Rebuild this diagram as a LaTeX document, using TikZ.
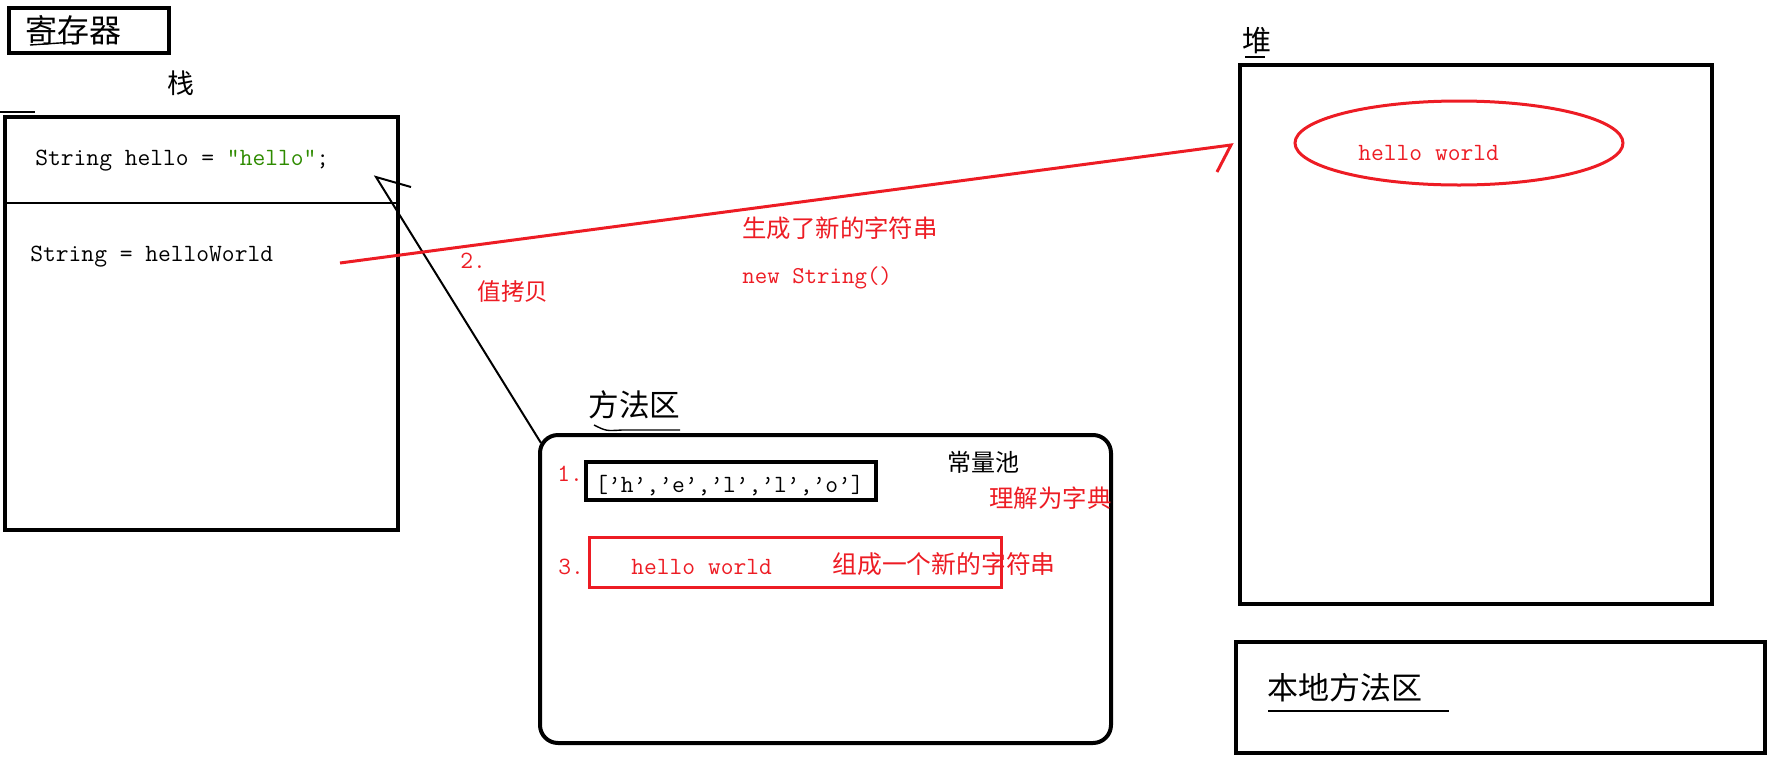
\documentclass[tikz,border=0pt]{standalone}
\usepackage{fontspec}
\newfontfamily\cjk{Noto Sans CJK SC}
\usetikzlibrary{calc,shapes.geometric}
\definecolor{paintred}{HTML}{ED1C24}
\definecolor{strgreen}{HTML}{2E8B00}

\tikzset{
  memframe/.style={line width=2pt},
  redframe/.style={line width=1.5pt, paintred},
  pen/.style={line width=0.7pt},
  code/.style={anchor=west, inner sep=0pt, font=\fontsize{12.4}{14}\selectfont\ttfamily},
  cjksmall/.style={anchor=west, inner sep=0pt, font=\fontsize{12.2}{14}\selectfont\cjk},
  cjkbig/.style={anchor=west, inner sep=0pt, font=\fontsize{15.5}{18}\selectfont\cjk},
  note/.style={text=paintred}
}

\begin{document}
\begin{tikzpicture}[x=0.5pt,y=-0.5pt]
  \useasboundingbox (0,0) rectangle (1790,761);
  % register
  \draw[memframe] (9,8) rectangle (169,53);
  \node[cjkbig, font=\fontsize{16}{18}\selectfont\cjk] (regname) at (25,30) {寄存器};
  \draw[pen] (30,45) .. controls (52,44) .. (74,42);
  % stack
  \node[cjkbig, font=\fontsize{13.5}{16}\selectfont\cjk] (stackname) at (167,83) {栈};
  \draw[pen] (0,112) -- (35,112);
  \draw[memframe] (5,117) rectangle (398,530);
  \draw[line width=1.3pt] (5,203) -- (398,203);
  \node[code] (hellovar) at (35,161) {String hello = {\color{strgreen}”hello”};};
  \node[code] (worldvar) at (30,257) {String = helloWorld};
  % heap
  \node[cjkbig, font=\fontsize{14.5}{17}\selectfont\cjk] (heapname) at (1242,41) {堆};
  \draw[pen] (1245,57) -- (1265,57);
  \draw[memframe] (1240,65) rectangle (1712,604);
  \node[draw, redframe, ellipse, minimum width=164pt, minimum height=42pt, inner sep=0pt] (heapobj) at (1459,143) {};
  \node[code, note] (heapstr) at (1358,153) {hello world};
  % native method area
  \draw[memframe] (1236,642) rectangle (1765,753);
  \node[cjkbig] (nativename) at (1267,688) {本地方法区};
  \draw[pen] (1268,711) -- (1449,711);
  % method area
  \node[cjkbig, font=\fontsize{15.3}{18}\selectfont\cjk] (methodname) at (588,405) {方法区};
  \draw[pen] (594,425) .. controls (606,431) .. (622,430) -- (680,430);
  \draw[memframe, rounded corners=9pt] (540,435) rectangle (1111,743);
  \node[code, note] (stepone) at (557,474) {1.};
  \draw[line width=1.8pt] (586,462) rectangle (876,500);
  \node[code] (chararr) at (595,486) {[’h’,’e’,’l’,’l’,’o’]};
  \node[cjksmall, font=\fontsize{12}{14}\selectfont\cjk] (poolname) at (947,462) {常量池};
  \node[cjksmall, note] (poolnote) at (989,498) {理解为字典};
  \node[code, note] (stepthree) at (558,567) {3.};
  \draw[redframe] (589,537) rectangle (1001,587);
  \node[code, note] (poolstr) at (631,567) {hello world};
  \node[cjksmall, note, font=\fontsize{12.4}{14}\selectfont\cjk] (joinnote) at (832,564) {组成一个新的字符串};
  % value copy
  \coordinate (copytail) at (541,443);
  \coordinate (copytip) at (376,177);
  \draw[line width=1pt] (copytail) -- (copytip) -- ++(35,10);
  \node[code, note] (steptwo) at (460,261) {2.};
  \node[cjksmall, note, font=\fontsize{11.8}{14}\selectfont\cjk] (copynote) at (477,292) {值拷贝};
  % new string
  \coordinate (reftail) at (340,263);
  \coordinate (reftip) at (1231,145);
  \draw[redframe] (reftail) -- (reftip) -- ++(-14,27);
  \node[cjksmall, note] (newnote) at (742,228) {生成了新的字符串};
  \node[code, note, font=\fontsize{12.1}{14}\selectfont\ttfamily] (newcall) at (742,278) {new String()};
\end{tikzpicture}
\end{document}
